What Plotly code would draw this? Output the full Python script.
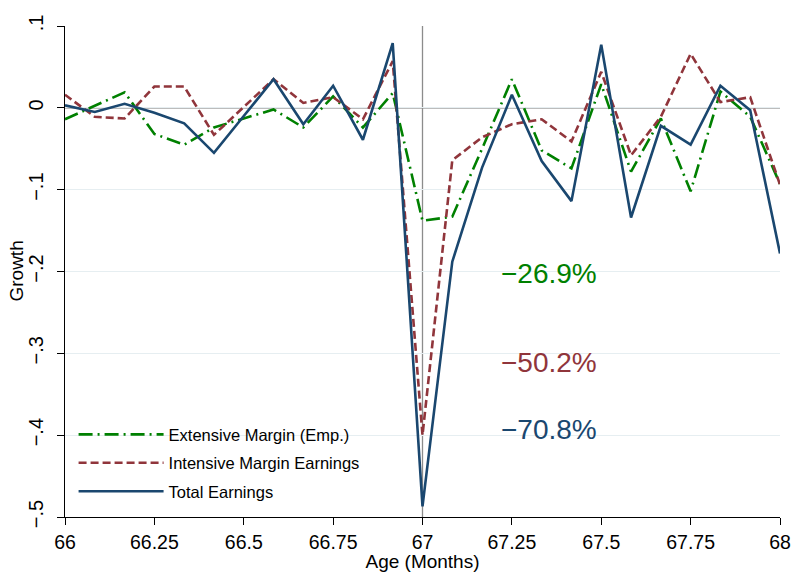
import plotly.graph_objects as go

# Age in months, one observation per month from 66 to 68
months = [66 + k / 12 for k in range(25)]

extensive = [-0.014, 0.003, 0.019, -0.032, -0.045, -0.024, -0.013, -0.002, -0.024,
             0.014, -0.024, 0.018, -0.138, -0.133, -0.050, 0.035, -0.052, -0.074,
             0.029, -0.078, -0.013, -0.102, 0.020, -0.011, -0.093]
intensive = [0.016, -0.011, -0.013, 0.026, 0.026, -0.033, 0.001, 0.035, 0.006,
             0.013, -0.014, 0.057, -0.400, -0.064, -0.036, -0.020, -0.014, -0.041,
             0.044, -0.058, -0.011, 0.066, 0.007, 0.013, -0.094]
total = [0.003, -0.005, 0.005, -0.006, -0.019, -0.055, -0.010, 0.035, -0.020,
         0.027, -0.039, 0.079, -0.487, -0.188, -0.073, 0.016, -0.065, -0.114,
         0.077, -0.134, -0.022, -0.045, 0.027, -0.003, -0.178]

series_names = ["Extensive Margin (Emp.)", "Intensive Margin Earnings", "Total Earnings"]
drop_labels = ["\u221226.9%", "\u221250.2%", "\u221270.8%"]
drop_label_y = [-0.202, -0.311, -0.393]

x_ticks = [66, 66.25, 66.5, 66.75, 67, 67.25, 67.5, 67.75, 68]
x_ticktext = ["66", "66.25", "66.5", "66.75", "67", "67.25", "67.5", "67.75", "68"]
y_ticks = [-0.5, -0.4, -0.3, -0.2, -0.1, 0, 0.1]
y_ticktext = ["\u2212.5", "\u2212.4", "\u2212.3", "\u2212.2", "\u2212.1", "0", ".1"]

colors = ["#008000", "#90353b", "#1a476f"]
dashes = ["14px,5px,2px,5px", "8px,4px", "solid"]

font_family = "Liberation Sans, Arial, sans-serif"

fig = go.Figure()
for i, ys in enumerate([extensive, intensive, total]):
    fig.add_trace(go.Scatter(
        x=months, y=ys, mode="lines", name=series_names[i],
        legendgroup=f"g{i}",
        line=dict(color=colors[i], width=2.6, dash=dashes[i]),
    ))

# reference lines at zero growth and at the 67-month threshold
fig.add_hline(y=0, line=dict(color="#a6a6a6", width=1.8), layer="below")
fig.add_vline(x=67, line=dict(color="#8c8c8c", width=1.3), layer="below")

for i, txt in enumerate(drop_labels):
    fig.add_annotation(x=67.214, y=drop_label_y[i], text=txt, showarrow=False,
                       xanchor="left", yanchor="middle",
                       font=dict(size=28, color=colors[i], family=font_family))

# y-axis title as a rotated annotation at the far left
fig.add_annotation(x=-0.0685, y=0.5, xref="paper", yref="paper", text="Growth",
                   textangle=-90, showarrow=False, xanchor="center", yanchor="middle",
                   font=dict(size=19, color="#000000", family=font_family))

fig.update_layout(
    width=794, height=572,
    margin=dict(l=65, r=14, t=26, b=55),
    paper_bgcolor="white", plot_bgcolor="white",
    font=dict(family=font_family, color="#000000", size=19),
    showlegend=True,
    legend=dict(x=0.012, y=0.016, xanchor="left", yanchor="bottom",
                bgcolor="rgba(255,255,255,0)", font=dict(size=16.5),
                tracegroupgap=4, itemwidth=85),
)
fig.update_xaxes(
    range=[66, 68], tickvals=x_ticks, ticktext=x_ticktext,
    showline=True, linecolor="#000000", linewidth=1.2,
    ticks="outside", ticklen=7, tickcolor="#000000",
    showgrid=False, zeroline=False, automargin=False,
    title=dict(text="Age (Months)", standoff=0, font=dict(size=19)),
    tickfont=dict(size=19.5),
)
fig.update_yaxes(
    range=[-0.5, 0.1], tickvals=y_ticks, ticktext=y_ticktext,
    showline=True, linecolor="#000000", linewidth=1.2,
    ticks="outside", ticklen=7, tickcolor="#000000",
    tickangle=-90, ticklabelstandoff=6,
    showgrid=True, gridcolor="#e6eef1", gridwidth=1.3, zeroline=False,
    automargin=False,
    tickfont=dict(size=20),
)

fig.write_html("out.html")
